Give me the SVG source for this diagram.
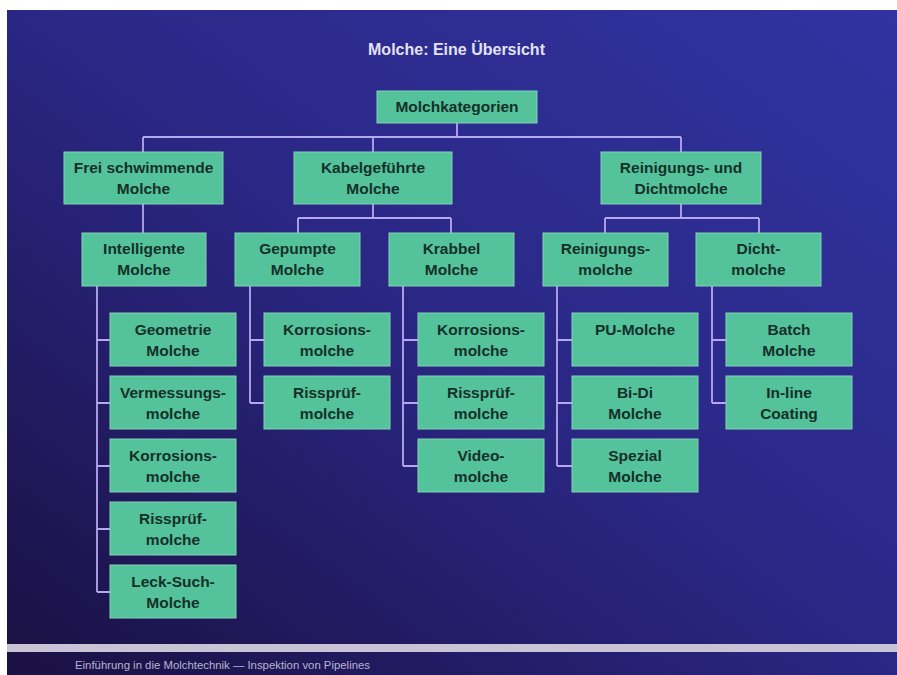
<svg xmlns="http://www.w3.org/2000/svg" width="897" height="675" viewBox="0 0 897 675">
<defs>
<linearGradient id="bg" x1="1" y1="0" x2="0" y2="1">
<stop offset="0" stop-color="#3133a2"/>
<stop offset="0.5" stop-color="#2a2784"/>
<stop offset="1" stop-color="#1a1042"/>
</linearGradient>
<style>
.box{fill:#54c29a;stroke:#82d2b4;stroke-width:1}
.lbl{font-family:"Liberation Sans",Arial,sans-serif;font-size:15.5px;font-weight:bold;fill:#15302a;text-anchor:middle}
.ln{stroke:#b6a8ee;stroke-width:1.8;fill:none}
</style>
</defs>
<rect x="0" y="0" width="897" height="675" fill="#ffffff"/>
<rect x="7" y="10" width="890" height="665" fill="url(#bg)"/>
<rect x="7" y="644" width="890" height="8" fill="#c9c3d6"/>
<text x="456.5" y="55" font-family="Liberation Sans,Arial,sans-serif" font-size="16" font-weight="bold" fill="#e2e2f2" text-anchor="middle">Molche: Eine Übersicht</text>
<text x="75" y="669" font-family="Liberation Sans,Arial,sans-serif" font-size="10" fill="#b8b4d0" textLength="295" lengthAdjust="spacingAndGlyphs">Einführung in die Molchtechnik — Inspektion von Pipelines</text>

<g id="connectors">
<path class="ln" d="M457 123V137M143 137H681M143 137V152M373 137V152M681 137V152"/>
<path class="ln" d="M143 204V233"/>
<path class="ln" d="M373 204V218M298 218H451M298 218V233M451 218V233"/>
<path class="ln" d="M681 204V218M605 218H759M605 218V233M759 218V233"/>
<path class="ln" d="M97 286V592M97 340H110M97 403H110M97 466H110M97 529H110M97 592H110"/>
<path class="ln" d="M250 286V403M250 340H264M250 403H264"/>
<path class="ln" d="M403 286V466M403 340H418M403 403H418M403 466H418"/>
<path class="ln" d="M557 286V466M557 340H572M557 403H572M557 466H572"/>
<path class="ln" d="M712 286V403M712 340H726M712 403H726"/>
</g>

<g id="n-root"><rect class="box" x="377" y="91" width="160" height="32"/><text class="lbl" x="457" y="112">Molchkategorien</text></g>

<g id="n-frei"><rect class="box" x="64" y="152" width="159" height="52"/><text class="lbl" x="143.5" y="173">Frei schwimmende</text><text class="lbl" x="143.5" y="194">Molche</text></g>
<g id="n-kabel"><rect class="box" x="294" y="152" width="158" height="52"/><text class="lbl" x="373" y="173">Kabelgeführte</text><text class="lbl" x="373" y="194">Molche</text></g>
<g id="n-reindicht"><rect class="box" x="601" y="152" width="160" height="52"/><text class="lbl" x="681" y="173">Reinigungs- und</text><text class="lbl" x="681" y="194">Dichtmolche</text></g>

<g id="n-intelligente"><rect class="box" x="82" y="233" width="124" height="53"/><text class="lbl" x="144" y="254">Intelligente</text><text class="lbl" x="144" y="275">Molche</text></g>
<g id="n-gepumpte"><rect class="box" x="235" y="233" width="125" height="53"/><text class="lbl" x="297.5" y="254">Gepumpte</text><text class="lbl" x="297.5" y="275">Molche</text></g>
<g id="n-krabbel"><rect class="box" x="389" y="233" width="125" height="53"/><text class="lbl" x="451.5" y="254">Krabbel</text><text class="lbl" x="451.5" y="275">Molche</text></g>
<g id="n-reinigungs"><rect class="box" x="543" y="233" width="125" height="53"/><text class="lbl" x="605.5" y="254">Reinigungs-</text><text class="lbl" x="605.5" y="275">molche</text></g>
<g id="n-dicht"><rect class="box" x="696" y="233" width="125" height="53"/><text class="lbl" x="758.5" y="254">Dicht-</text><text class="lbl" x="758.5" y="275">molche</text></g>

<g id="n-geometrie"><rect class="box" x="110" y="313" width="126" height="53"/><text class="lbl" x="173" y="335">Geometrie</text><text class="lbl" x="173" y="356">Molche</text></g>
<g id="n-vermessung"><rect class="box" x="110" y="376" width="126" height="53"/><text class="lbl" x="173" y="398">Vermessungs-</text><text class="lbl" x="173" y="419">molche</text></g>
<g id="n-korr1"><rect class="box" x="110" y="439" width="126" height="53"/><text class="lbl" x="173" y="461">Korrosions-</text><text class="lbl" x="173" y="482">molche</text></g>
<g id="n-riss1"><rect class="box" x="110" y="502" width="126" height="53"/><text class="lbl" x="173" y="524">Rissprüf-</text><text class="lbl" x="173" y="545">molche</text></g>
<g id="n-leck"><rect class="box" x="110" y="565" width="126" height="53"/><text class="lbl" x="173" y="587">Leck-Such-</text><text class="lbl" x="173" y="608">Molche</text></g>

<g id="n-korr2"><rect class="box" x="264" y="313" width="126" height="53"/><text class="lbl" x="327" y="335">Korrosions-</text><text class="lbl" x="327" y="356">molche</text></g>
<g id="n-riss2"><rect class="box" x="264" y="376" width="126" height="53"/><text class="lbl" x="327" y="398">Rissprüf-</text><text class="lbl" x="327" y="419">molche</text></g>

<g id="n-korr3"><rect class="box" x="418" y="313" width="126" height="53"/><text class="lbl" x="481" y="335">Korrosions-</text><text class="lbl" x="481" y="356">molche</text></g>
<g id="n-riss3"><rect class="box" x="418" y="376" width="126" height="53"/><text class="lbl" x="481" y="398">Rissprüf-</text><text class="lbl" x="481" y="419">molche</text></g>
<g id="n-video"><rect class="box" x="418" y="439" width="126" height="53"/><text class="lbl" x="481" y="461">Video-</text><text class="lbl" x="481" y="482">molche</text></g>

<g id="n-pu"><rect class="box" x="572" y="313" width="126" height="53"/><text class="lbl" x="635" y="335">PU-Molche</text></g>
<g id="n-bidi"><rect class="box" x="572" y="376" width="126" height="53"/><text class="lbl" x="635" y="398">Bi-Di</text><text class="lbl" x="635" y="419">Molche</text></g>
<g id="n-spezial"><rect class="box" x="572" y="439" width="126" height="53"/><text class="lbl" x="635" y="461">Spezial</text><text class="lbl" x="635" y="482">Molche</text></g>

<g id="n-batch"><rect class="box" x="726" y="313" width="126" height="53"/><text class="lbl" x="789" y="335">Batch</text><text class="lbl" x="789" y="356">Molche</text></g>
<g id="n-inline"><rect class="box" x="726" y="376" width="126" height="53"/><text class="lbl" x="789" y="398">In-line</text><text class="lbl" x="789" y="419">Coating</text></g>
</svg>
